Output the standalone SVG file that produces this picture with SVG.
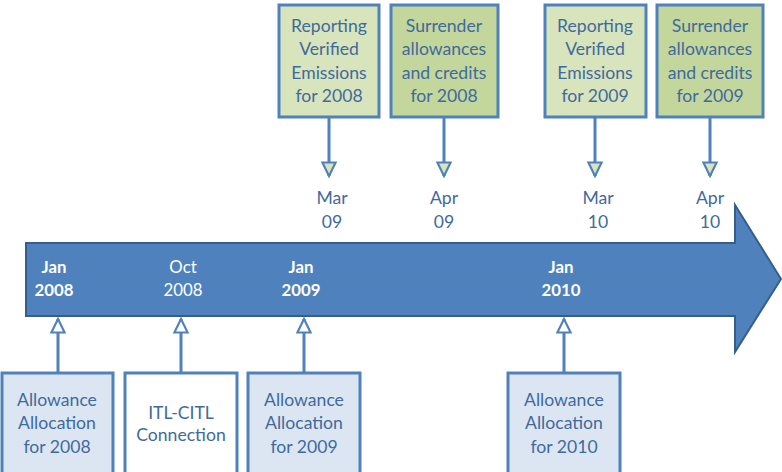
<svg xmlns="http://www.w3.org/2000/svg" width="782" height="472" viewBox="0 0 782 472">
<style>
text{font-family:Lato,"Liberation Sans",sans-serif;font-size:17.6px;fill:#3f6a9e;text-anchor:middle}
.w{fill:#fff;font-size:16.8px}
.b{font-weight:bold}
.box{stroke:#4f81bd;stroke-width:3}
.g1{fill:#d8e4bc}
.g2{fill:#c3d69b}
.bl{fill:#dce6f2}
.wh{fill:#fff}
.ln{stroke:#4f81bd;stroke-width:3;fill:none}
</style>
<defs>
<marker id="ag" markerWidth="6" markerHeight="8" refX="5" refY="3" orient="auto" markerUnits="strokeWidth" viewBox="0 0 6 6">
<path d="M0.5,0.8 L5,3 L0.5,5.2 Z" fill="#d8e4bc" stroke="#4f81bd" stroke-width="0.7"/>
</marker>
<marker id="aw" markerWidth="6" markerHeight="8" refX="5" refY="3" orient="auto" markerUnits="strokeWidth" viewBox="0 0 6 6">
<path d="M0.5,0.8 L5,3 L0.5,5.2 Z" fill="#fff" stroke="#4f81bd" stroke-width="0.7"/>
</marker>
</defs>
<g id="timeline">
<path d="M26,243 L735,243 L735,205 L781,279 L735,352 L735,316 L26,316 Z" fill="#4f81bd" stroke="#385d8a" stroke-width="2"/>
<text class="w b" x="54" y="273">Jan</text><text class="w b" x="54" y="296">2008</text>
<text class="w" x="183" y="273">Oct</text><text class="w" x="183" y="296">2008</text>
<text class="w b" x="301" y="273">Jan</text><text class="w b" x="301" y="296">2009</text>
<text class="w b" x="561" y="273">Jan</text><text class="w b" x="561" y="296">2010</text>
<text x="332" y="204">Mar</text><text x="332" y="228">09</text>
<text x="444" y="204">Apr</text><text x="444" y="228">09</text>
<text x="598" y="204">Mar</text><text x="598" y="228">10</text>
<text x="710" y="204">Apr</text><text x="710" y="228">10</text>
</g>
<g id="connectors">
<line class="ln" x1="329" y1="118" x2="329" y2="176" marker-end="url(#ag)"/>
<line class="ln" x1="444" y1="118" x2="444" y2="176" marker-end="url(#ag)"/>
<line class="ln" x1="595" y1="118" x2="595" y2="176" marker-end="url(#ag)"/>
<line class="ln" x1="710" y1="118" x2="710" y2="176" marker-end="url(#ag)"/>
<line class="ln" x1="58" y1="372" x2="58" y2="319" marker-end="url(#aw)"/>
<line class="ln" x1="181" y1="372" x2="181" y2="319" marker-end="url(#aw)"/>
<line class="ln" x1="304" y1="372" x2="304" y2="319" marker-end="url(#aw)"/>
<line class="ln" x1="564" y1="372" x2="564" y2="319" marker-end="url(#aw)"/>
</g>
<g id="rep2008">
<rect class="box g1" x="279" y="5" width="100" height="112"/>
<text x="329" y="32">Reporting</text><text x="329" y="55">Verified</text><text x="329" y="79">Emissions</text><text x="329" y="102">for 2008</text>
</g>
<g id="sur2008">
<rect class="box g2" x="391" y="5" width="107" height="112"/>
<text x="444" y="32">Surrender</text><text x="444" y="55">allowances</text><text x="444" y="79">and credits</text><text x="444" y="102">for 2008</text>
</g>
<g id="rep2009">
<rect class="box g1" x="545" y="5" width="101" height="112"/>
<text x="595" y="32">Reporting</text><text x="595" y="55">Verified</text><text x="595" y="79">Emissions</text><text x="595" y="102">for 2009</text>
</g>
<g id="sur2009">
<rect class="box g2" x="657" y="5" width="106" height="112"/>
<text x="710" y="32">Surrender</text><text x="710" y="55">allowances</text><text x="710" y="79">and credits</text><text x="710" y="102">for 2009</text>
</g>
<g id="alloc2008">
<rect class="box bl" x="2" y="373" width="111" height="110"/>
<text x="57" y="406">Allowance</text><text x="57" y="429">Allocation</text><text x="57" y="453">for 2008</text>
</g>
<g id="itl">
<rect class="box wh" x="125" y="373" width="112" height="110"/>
<text x="181" y="419">ITL-CITL</text><text x="181" y="441">Connection</text>
</g>
<g id="alloc2009">
<rect class="box bl" x="248" y="373" width="112" height="110"/>
<text x="304" y="406">Allowance</text><text x="304" y="429">Allocation</text><text x="304" y="453">for 2009</text>
</g>
<g id="alloc2010">
<rect class="box bl" x="508" y="373" width="112" height="110"/>
<text x="564" y="406">Allowance</text><text x="564" y="429">Allocation</text><text x="564" y="453">for 2010</text>
</g>
</svg>
